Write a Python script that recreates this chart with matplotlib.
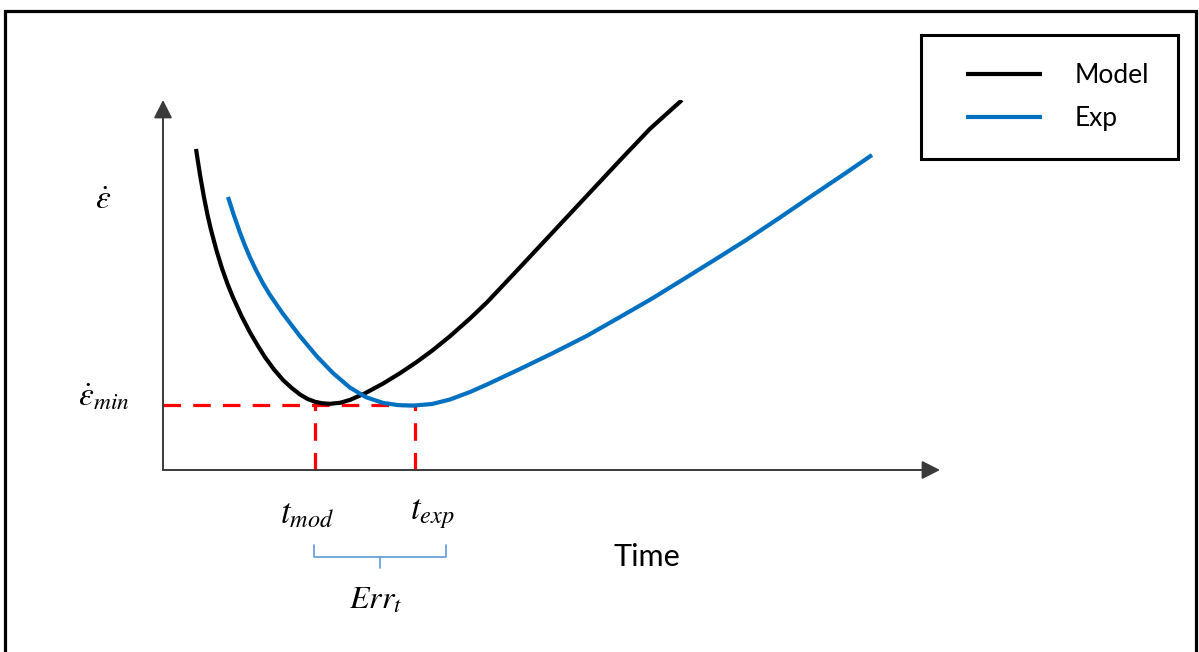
import matplotlib.pyplot as plt
from matplotlib.patches import Rectangle
from matplotlib.legend_handler import HandlerLine2D
from matplotlib.lines import Line2D

plt.rcParams['mathtext.fontset'] = 'stix'
plt.rcParams['font.family'] = ['Lato', 'DejaVu Sans']

# schematic curves (time, strain rate)
t_model = [0.330, 0.370, 0.410, 0.445, 0.480, 0.535, 0.590, 0.645, 0.700, 0.785,
           0.870, 0.945, 1.020, 1.110, 1.200, 1.285, 1.370, 1.445, 1.520, 1.595,
           1.670, 1.770, 1.870, 2.020, 2.200, 2.370, 2.540, 2.700, 2.870, 3.070,
           3.240, 3.570, 3.900, 4.240, 4.570, 4.870, 5.190]
rate_model = [3.210, 2.953, 2.726, 2.552, 2.401, 2.195, 2.016, 1.861, 1.725, 1.540,
              1.376, 1.248, 1.128, 1.005, 0.900, 0.822, 0.755, 0.711, 0.682, 0.667,
              0.662, 0.672, 0.701, 0.767, 0.864, 0.968, 1.082, 1.200, 1.338, 1.515,
              1.677, 2.027, 2.380, 2.744, 3.097, 3.412, 3.700]

t_exp = [0.650, 0.710, 0.770, 0.820, 0.870, 0.930, 1.000, 1.070, 1.200, 1.370,
         1.540, 1.700, 1.870, 2.030, 2.200, 2.350, 2.500, 2.690, 2.870, 3.070,
         3.240, 3.570, 3.900, 4.240, 4.570, 4.900, 5.240, 5.570, 5.840, 6.170,
         6.500, 6.820, 7.090]
rate_exp = [2.730, 2.544, 2.373, 2.243, 2.125, 1.999, 1.866, 1.750, 1.561, 1.338,
            1.135, 0.969, 0.824, 0.728, 0.671, 0.649, 0.644, 0.660, 0.705, 0.780,
            0.855, 1.010, 1.170, 1.342, 1.530, 1.720, 1.930, 2.135, 2.305, 2.525,
            2.750, 2.965, 3.150]

rate_min = 0.650
t_min_mod = 1.520
t_min_exp = 2.520

fig = plt.figure(figsize=(11.99, 6.52), dpi=100)
ax = fig.add_axes([163 / 1199, 182 / 652, 777 / 1199, 370 / 652])
ax.set_xlim(0, 7.77)
ax.set_ylim(0, 3.70)
ax.axis('off')

# outer frame
fig.add_artist(Rectangle((5 / 1199, -0.05), 1190.5 / 1199, 0.05 + 641 / 652,
                         transform=fig.transFigure, fill=False, ec='black', lw=2.3))

# axis arrows
arrow = dict(arrowstyle='-|>, head_length=0.55, head_width=0.28', mutation_scale=20,
             color='#3a3a3a', lw=1.4, shrinkA=0, shrinkB=0)
ax.annotate('', xy=(1, 0), xytext=(0, 0), xycoords='axes fraction', arrowprops=arrow)
ax.annotate('', xy=(0, 1), xytext=(0, 0), xycoords='axes fraction', arrowprops=arrow)

# minimum markers
dash = (0, (5.5, 3.8))
ax.plot([0, t_min_exp], [rate_min, rate_min], color='#ff0000', lw=2.3, linestyle=dash)
ax.vlines([t_min_mod, t_min_exp], 0, rate_min, color='#ff0000', lw=2.3, linestyle=dash)

ax.plot(t_model, rate_model, color='black', lw=3, label='Model', solid_capstyle='butt')
ax.plot(t_exp, rate_exp, color='#0070c0', lw=3, label='Exp', solid_capstyle='butt')

ax.text(-0.60, 2.70, r'$\dot{\varepsilon}$', fontsize=24, ha='center', va='center')
ax.text(-0.59, 0.73, r'$\dot{\varepsilon}_{min}$', fontsize=24, ha='center', va='center')
ax.text(1.44, -0.44, r'$t_{mod}$', fontsize=25, ha='center', va='center')
ax.text(2.69, -0.44, r'$t_{exp}$', fontsize=25, ha='center', va='center')
ax.text(2.13, -1.30, r'$Err_t$', fontsize=23, ha='center', va='center')
ax.text(4.84, -0.87, 'Time', fontsize=22, ha='center', va='center')

# brace under the two minimum times
ax.annotate('', xy=(2.17, -0.87), xytext=(2.17, -0.98), annotation_clip=False,
            arrowprops=dict(arrowstyle='-[, widthB=4.75, lengthB=0.86', mutation_scale=10,
                            color='#5b9bd5', lw=1.2, shrinkA=0, shrinkB=0))

leg = ax.legend(loc='upper left', bbox_to_anchor=(921 / 1199, 1 - 35 / 652),
                bbox_transform=fig.transFigure, fontsize=19, frameon=True, fancybox=False,
                borderpad=1.07, labelspacing=0.68, handlelength=3.52, handletextpad=1.25,
                borderaxespad=0, handler_map={Line2D: HandlerLine2D(xpad=0.64)})
leg.get_frame().set_edgecolor('black')
leg.get_frame().set_linewidth(2.2)
leg.get_frame().set_alpha(1)

fig.savefig('out.png', dpi=100)
